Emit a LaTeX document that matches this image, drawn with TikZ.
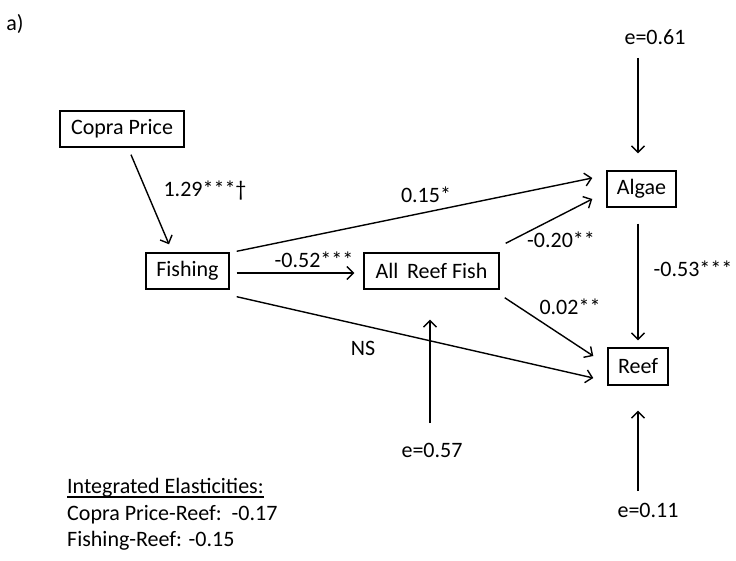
\documentclass[tikz,border=0pt]{standalone}
\usepackage{fontspec}
\setmainfont{Carlito}
\usetikzlibrary{arrows.meta,calc}
\begin{document}
\begin{tikzpicture}[x=1pt,y=-1pt,
  every node/.style={font=\fontsize{22}{26.4}\selectfont, inner sep=0pt},
  varbox/.style={draw, line width=1.4pt, minimum height=36pt, align=center},
  lbl/.style={anchor=base},
  arr/.style={line width=1.4pt, -{Straight Barb[length=6.5pt,width=13pt,line width=1.4pt]}}
]
\useasboundingbox (0,0) rectangle (736,561);

% title
\node[lbl] (tag) at (15,31) {a)};

% variable boxes
\node[varbox, minimum width=124pt] (copra) at (122,129) {Copra Price};
\node[varbox, minimum width=83pt] (fish) at (187.5,271) {Fishing};
\node[varbox, minimum width=135pt] (arf) at (431.5,271) {All\, Reef Fish};
\node[varbox, minimum width=69pt] (algae) at (641.5,189) {Algae};
\node[varbox, minimum width=60pt, minimum height=37pt] (reef) at (638,366.5) {Reef};

% error terms
\node[lbl] (e61) at (655,45) {e=0.61};
\node[lbl] (e57) at (432,457) {e=0.57};
\node[lbl] (e11) at (648,517) {e=0.11};

% connectors
\draw[arr] ($(copra.south)+(9,7)$) -- ($(fish.north)+(-18.5,-8)$);
\draw[arr] ($(fish.east)+(7,2)$) -- ($(arf.west)+(-9,2)$);
\draw[arr] ($(fish.north east)+(7,-1)$) -- ($(algae.west)+(-14,-11)$);
\draw[arr] ($(fish.south east)+(7,7)$) -- ($(reef.west)+(-14,11.5)$);
\draw[arr] ($(arf.north east)+(6,-9)$) -- ($(algae.west)+(-14,10)$);
\draw[arr] ($(arf.south east)+(5,8)$) -- ($(reef.west)+(-14,-10.5)$);
\draw[arr] ($(algae.south)+(-3.5,16)$) -- ($(reef.north)+(0,-7)$);
\draw[arr] ($(e61.base)+(-17,13)$) -- ($(algae.north)+(-3.5,-17)$);
\draw[arr] ($(e57.base)+(-2,-34)$) -- ($(arf.south)+(-1.5,30)$);
\draw[arr] ($(e11.base)+(-10,-26)$) -- ($(reef.south)+(0,25)$);

% path coefficients
\node[lbl] (c1) at (205,197) {1.29***†};
\node[lbl] (c2) at (314,268) {-0.52***};
\node[lbl] (c3) at (426,203) {0.15*};
\node[lbl] (c4) at (561,248) {-0.20**};
\node[lbl] (c5) at (693,277) {-0.53***};
\node[lbl] (c6) at (570,315) {0.02**};
\node[lbl] (c7) at (363,355) {NS};

% integrated elasticities
\node[anchor=base west] (ie) at (67,493) {Integrated Elasticities:};
\draw[line width=1.1pt] ($(ie.base west)+(0,4)$) -- ($(ie.base east)+(0,4)$);
\node[anchor=base west] (ie1) at (67,520) {Copra Price-Reef:\ \ -0.17};
\node[anchor=base west] (ie2) at (67,546) {Fishing-Reef: -0.15};
\end{tikzpicture}
\end{document}
